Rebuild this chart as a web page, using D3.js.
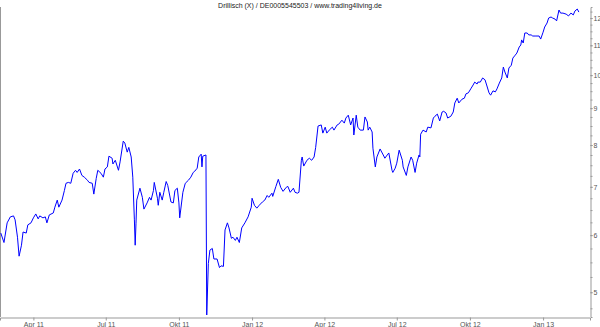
<!DOCTYPE html>
<html>
<head>
<meta charset="utf-8">
<script src="https://cdn.jsdelivr.net/npm/d3@7"></script>
<style>
  body { margin: 0; background: #fff; }
  svg { display: block; }
</style>
</head>
<body>
<script>

var title = "Drillisch (X) / DE0005545503 / www.trading4living.de";

var dates = [
  "2011-02-19","2011-02-23","2011-02-27","2011-03-03","2011-03-07","2011-03-09","2011-03-12","2011-03-14","2011-03-17","2011-03-19",
  "2011-03-23","2011-03-25","2011-03-29","2011-04-01","2011-04-04","2011-04-07","2011-04-09","2011-04-13","2011-04-16","2011-04-18",
  "2011-04-21","2011-04-26","2011-04-28","2011-05-01","2011-05-03","2011-05-07","2011-05-10","2011-05-12","2011-05-15","2011-05-18",
  "2011-05-21","2011-05-24","2011-05-26","2011-05-29","2011-06-01","2011-06-04","2011-06-08","2011-06-10","2011-06-14","2011-06-16",
  "2011-06-19","2011-06-21","2011-06-25","2011-06-28","2011-06-30","2011-07-03","2011-07-05","2011-07-09","2011-07-10","2011-07-13",
  "2011-07-17","2011-07-19","2011-07-23","2011-07-25","2011-07-28","2011-07-30","2011-08-02","2011-08-04","2011-08-06","2011-08-07",
  "2011-08-08","2011-08-09","2011-08-13","2011-08-16","2011-08-18","2011-08-22","2011-08-25","2011-08-27","2011-08-30","2011-08-31",
  "2011-09-04","2011-09-05","2011-09-07","2011-09-10","2011-09-12","2011-09-15","2011-09-17","2011-09-21","2011-09-24","2011-09-26",
  "2011-09-29","2011-10-01","2011-10-02","2011-10-06","2011-10-09","2011-10-13","2011-10-16","2011-10-19","2011-10-21","2011-10-24",
  "2011-10-26","2011-10-29","2011-10-30","2011-10-31","2011-11-04","2011-11-05","2011-11-07","2011-11-09","2011-11-12","2011-11-14",
  "2011-11-18","2011-11-21","2011-11-23","2011-11-26","2011-11-28","2011-12-01","2011-12-03","2011-12-06","2011-12-08","2011-12-11",
  "2011-12-13","2011-12-16","2011-12-19","2011-12-23","2011-12-27","2011-12-31","2012-01-01","2012-01-04","2012-01-07","2012-01-10",
  "2012-01-14","2012-01-17","2012-01-20","2012-01-22","2012-01-26","2012-01-27","2012-01-31","2012-02-03","2012-02-06","2012-02-09",
  "2012-02-13","2012-02-15","2012-02-18","2012-02-22","2012-02-24","2012-02-27","2012-02-29","2012-03-03","2012-03-04","2012-03-06",
  "2012-03-10","2012-03-13","2012-03-16","2012-03-19","2012-03-21","2012-03-24","2012-03-28","2012-03-30","2012-04-02","2012-04-04",
  "2012-04-07","2012-04-11","2012-04-13","2012-04-17","2012-04-19","2012-04-23","2012-04-26","2012-04-28","2012-05-01","2012-05-04",
  "2012-05-07","2012-05-08","2012-05-11","2012-05-13","2012-05-16","2012-05-20","2012-05-22","2012-05-25","2012-05-26","2012-05-28",
  "2012-05-31","2012-06-01","2012-06-04","2012-06-06","2012-06-10","2012-06-14","2012-06-16","2012-06-19","2012-06-21","2012-06-25",
  "2012-06-26","2012-06-29","2012-07-01","2012-07-04","2012-07-08","2012-07-09","2012-07-13","2012-07-15","2012-07-19","2012-07-21",
  "2012-07-24","2012-07-26","2012-07-29","2012-07-30","2012-07-31","2012-08-03","2012-08-07","2012-08-09","2012-08-13","2012-08-16",
  "2012-08-18","2012-08-21","2012-08-24","2012-08-27","2012-08-29","2012-09-01","2012-09-03","2012-09-07","2012-09-10","2012-09-12",
  "2012-09-15","2012-09-17","2012-09-21","2012-09-24","2012-09-26","2012-09-29","2012-10-02","2012-10-05","2012-10-07","2012-10-10",
  "2012-10-11","2012-10-14","2012-10-17","2012-10-20","2012-10-22","2012-10-25","2012-10-27","2012-10-30","2012-11-02","2012-11-04",
  "2012-11-07","2012-11-10","2012-11-12","2012-11-14","2012-11-17","2012-11-19","2012-11-22","2012-11-24","2012-11-27","2012-11-29",
  "2012-12-02","2012-12-04","2012-12-05","2012-12-07","2012-12-09","2012-12-12","2012-12-14","2012-12-17","2012-12-19","2012-12-23",
  "2012-12-27","2012-12-29","2013-01-01","2013-01-03","2013-01-06","2013-01-08","2013-01-11","2013-01-13","2013-01-16","2013-01-18",
  "2013-01-21","2013-01-23","2013-01-26","2013-01-30","2013-02-02","2013-02-05","2013-02-08","2013-02-10","2013-02-13","2013-02-15"
];

var prices = [
  6.04, 5.86, 6.24, 6.36, 6.38, 6.30, 5.96, 5.61, 5.81, 6.06,
  6.04, 6.20, 6.24, 6.34, 6.42, 6.32, 6.38, 6.34, 6.36, 6.24,
  6.40, 6.44, 6.56, 6.71, 6.56, 6.71, 6.92, 7.08, 7.10, 7.08,
  7.31, 7.38, 7.33, 7.41, 7.26, 7.22, 7.15, 7.10, 7.08, 6.84,
  7.19, 7.38, 7.31, 7.22, 7.41, 7.46, 7.72, 7.67, 7.53, 7.62,
  7.38, 7.58, 8.10, 8.05, 7.82, 7.94, 7.70, 7.22, 6.30, 5.81,
  6.22, 6.71, 6.97, 6.77, 6.52, 6.65, 6.77, 6.71, 6.92, 7.10,
  6.75, 6.60, 6.88, 6.71, 6.88, 7.12, 7.03, 6.67, 6.65, 6.92,
  6.97, 6.65, 6.34, 6.88, 7.08, 7.15, 7.22, 7.33, 7.36, 7.43,
  7.70, 7.77, 7.46, 7.72, 7.75, 4.65, 5.48, 5.72, 5.75, 5.56,
  5.56, 5.41, 5.44, 5.43, 6.10, 6.24, 6.14, 5.94, 5.96, 5.90,
  5.96, 5.86, 6.14, 6.24, 6.36, 6.56, 6.75, 6.60, 6.54, 6.60,
  6.67, 6.71, 6.81, 6.77, 6.86, 6.79, 7.01, 7.17, 6.99, 6.90,
  6.99, 7.01, 6.88, 6.97, 6.88, 6.86, 6.88, 7.62, 7.70, 7.48,
  7.62, 7.67, 7.62, 7.70, 7.94, 8.50, 8.53, 8.31, 8.47, 8.31,
  8.39, 8.47, 8.39, 8.53, 8.55, 8.66, 8.58, 8.72, 8.80, 8.53,
  8.72, 8.26, 8.80, 8.47, 8.39, 8.39, 8.75, 8.61, 8.39, 8.47,
  8.34, 7.92, 7.46, 7.70, 7.90, 7.75, 7.67, 7.75, 7.80, 7.38,
  7.33, 7.43, 7.55, 7.87, 7.62, 7.46, 7.26, 7.46, 7.70, 7.62,
  7.33, 7.55, 7.75, 7.70, 8.28, 8.39, 8.34, 8.47, 8.45, 8.72,
  8.77, 8.83, 8.64, 8.89, 8.91, 8.86, 8.72, 8.77, 8.89, 9.15,
  9.29, 9.15, 9.26, 9.29, 9.42, 9.45, 9.57, 9.69, 9.78, 9.72,
  9.78, 9.78, 9.91, 9.85, 9.69, 9.45, 9.38, 9.51, 9.48, 9.57,
  9.75, 9.91, 10.26, 10.10, 9.91, 10.23, 10.32, 10.56, 10.66, 10.73,
  10.94, 11.01, 11.19, 11.08, 11.44, 11.44, 11.37, 11.37, 11.33, 11.33,
  11.33, 11.22, 11.47, 11.66, 11.81, 12.00, 12.04, 12.00, 11.96, 11.89,
  12.31, 12.19, 12.19, 12.15, 12.08, 12.19, 12.12, 12.27, 12.35, 12.23
];

var xTickDates = ["2011-04-01","2011-07-01","2011-10-01","2012-01-01","2012-04-01","2012-07-01","2012-10-01","2013-01-01"];
var xTickLabels = ["Apr 11","Jul 11","Okt 11","Jan 12","Apr 12","Jul 12","Okt 12","Jan 13"];
var yTicks = [5, 6, 7, 8, 9, 10, 11, 12];
var yMinorTicks = d3.range(4.75, 12.5, 0.25);

var parse = d3.timeParse("%Y-%m-%d");
var data = dates.map(function(d, i) { return { date: parse(d), value: prices[i] }; });

var width = 600, height = 327;
var plotLeft = 0, plotRight = 590, plotTop = 7, plotBottom = 317;
var fontFam = "'Liberation Sans', Arial, sans-serif";
var narrowFam = "'Liberation Sans Narrow', 'Arial Narrow', 'Liberation Sans', sans-serif";

var x = d3.scaleTime()
    .domain([parse("2011-02-18"), parse("2013-03-01")])
    .range([plotLeft, plotRight]);

var y = d3.scaleLog()
    .domain([4.62, 12.43])
    .range([plotBottom, plotTop]);

var svg = d3.select("body").append("svg")
    .attr("width", width)
    .attr("height", height)
    .style("font-family", fontFam);

svg.append("text")
    .text(title)
    .attr("x", 300)
    .attr("y", 8)
    .attr("text-anchor", "middle")
    .attr("font-size", 7)
    .attr("fill", "#222");

// left border
svg.append("line")
    .attr("x1", 0.5).attr("x2", 0.5)
    .attr("y1", plotTop).attr("y2", plotBottom)
    .attr("stroke", "#999");

// bottom axis
var xAxis = d3.axisBottom(x)
    .tickValues(xTickDates.map(parse))
    .tickFormat(function(d, i) { return xTickLabels[i]; })
    .tickSize(3)
    .tickPadding(2);

var gx = svg.append("g")
    .attr("transform", "translate(0," + (plotBottom + 0.5) + ")")
    .call(xAxis);
gx.select(".domain").attr("stroke", "#999");
gx.selectAll(".tick line").attr("stroke", "#999");
gx.selectAll(".tick text").attr("font-size", 7).attr("fill", "#555")
    .attr("font-family", fontFam);

// right axis, log scale
var gyMinor = svg.append("g")
    .attr("transform", "translate(" + (plotRight + 0.5) + ",0)")
    .call(d3.axisRight(y).tickValues(yMinorTicks).tickSize(2).tickFormat(""));
gyMinor.select(".domain").remove();
gyMinor.selectAll(".tick line").attr("stroke", "#999");

var gy = svg.append("g")
    .attr("transform", "translate(" + (plotRight + 0.5) + ",0)")
    .call(d3.axisRight(y).tickValues(yTicks).tickSize(2).tickPadding(1).tickFormat(d3.format("d")));
gy.select(".domain").attr("stroke", "#999");
gy.selectAll(".tick line").attr("stroke", "#999");
gy.selectAll(".tick text").attr("font-size", 7).attr("fill", "#555")
    .attr("font-family", narrowFam);

var line = d3.line()
    .x(function(d) { return x(d.date); })
    .y(function(d) { return y(d.value); });

svg.append("path")
    .datum(data)
    .attr("d", line)
    .attr("fill", "none")
    .attr("stroke", "#0000ff")
    .attr("stroke-width", 1);

</script>
</body>
</html>
